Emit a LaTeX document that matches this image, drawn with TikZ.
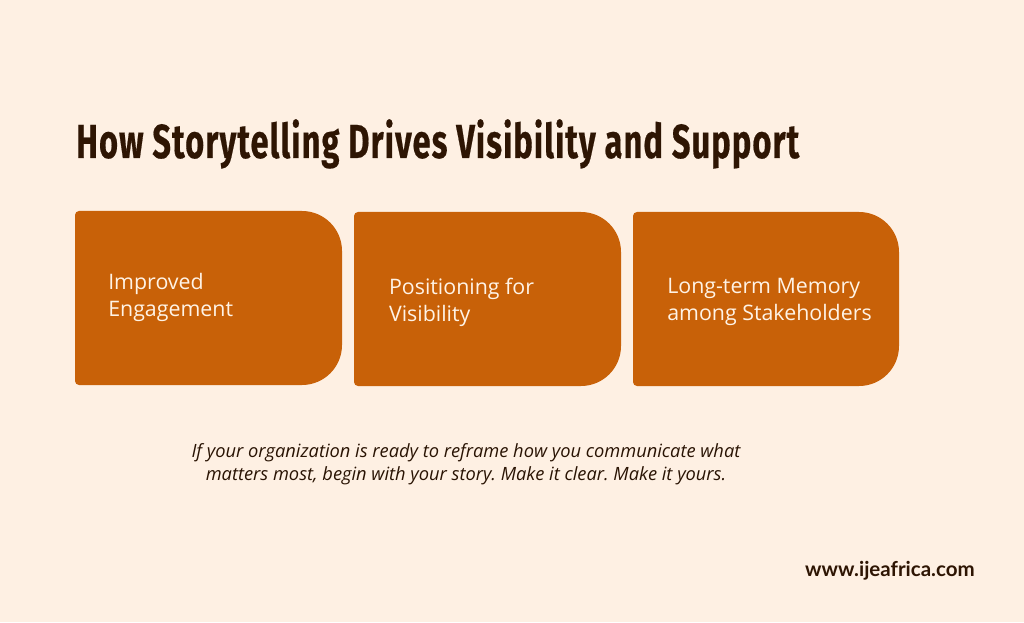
\documentclass[tikz,border=0pt]{standalone}
\usepackage{fontspec}
\setmainfont{Open Sans}
\newfontfamily\headfont[FakeStretch=0.68, LetterSpace=2.4, FakeBold=0.4]{Fira Sans}
\newfontfamily\bodyfont{Open Sans}
\newfontfamily\urlfont{Lato}
\definecolor{pagecream}{RGB}{254, 240, 227}
\definecolor{boxorange}{RGB}{200, 97, 8}
\definecolor{headbrown}{RGB}{46, 21, 3}
\definecolor{labelcream}{RGB}{255, 243, 230}
\usetikzlibrary{positioning}

\begin{document}
\frenchspacing
\begin{tikzpicture}[
  heading/.style={anchor=base west, inner sep=0pt, text=headbrown, font=\headfont\bfseries\fontsize{34}{40}\selectfont},
  tabbox/.style={fill=boxorange},
  boxlabel/.style={anchor=west, inner sep=0pt, align=left, text=labelcream, font=\bodyfont\fontsize{15.2}{19.2}\selectfont},
  closing/.style={inner sep=0pt, align=center, text=headbrown!90!black, font=\bodyfont\itshape\fontsize{13}{16.4}\selectfont},
  website/.style={anchor=base east, inner sep=0pt, text=headbrown, font=\urlfont\bfseries\fontsize{14.6}{18}\selectfont}
]
  % Page
  \fill[pagecream] (0, 0) rectangle (25.6, 15.55);
  \useasboundingbox (0, 0) rectangle (25.6, 15.55);

  % Title
  \node[heading] (title) at (1.9, 11.6) {How Storytelling Drives Visibility and Support};

  % Boxes
  \fill[tabbox] (1.875, 8) [rounded corners=0.1cm] -- (1.875, 10.275) [rounded corners=1cm] -- (8.55, 10.275) -- (8.55, 5.925) [rounded corners=0.1cm] -- (1.875, 5.925) -- cycle;
  \fill[tabbox] (8.85, 8) [rounded corners=0.1cm] -- (8.85, 10.25) [rounded corners=1cm] -- (15.525, 10.25) -- (15.525, 5.9) [rounded corners=0.1cm] -- (8.85, 5.9) -- cycle;
  \fill[tabbox] (15.825, 8) [rounded corners=0.1cm] -- (15.825, 10.25) [rounded corners=1cm] -- (22.475, 10.25) -- (22.475, 5.9) [rounded corners=0.1cm] -- (15.825, 5.9) -- cycle;

  % Box labels
  \node[boxlabel] (engagement) at (2.7, 8.125) {Improved\\Engagement};
  \node[boxlabel] (visibility) at (9.72, 8.0) {Positioning for\\Visibility};
  \node[boxlabel] (memory) at (16.675, 8.0) {Long-term Memory\\among Stakeholders};

  % Closing text
  \node[closing] (closingtext) at (11.65, 3.95) {If your organization is ready to reframe how you communicate what\\matters most, begin with your story. Make it clear. Make it yours.};

  % Website
  \node[website] (url) at (24.375, 1.13) {www.ijeafrica.com};
\end{tikzpicture}
\end{document}
